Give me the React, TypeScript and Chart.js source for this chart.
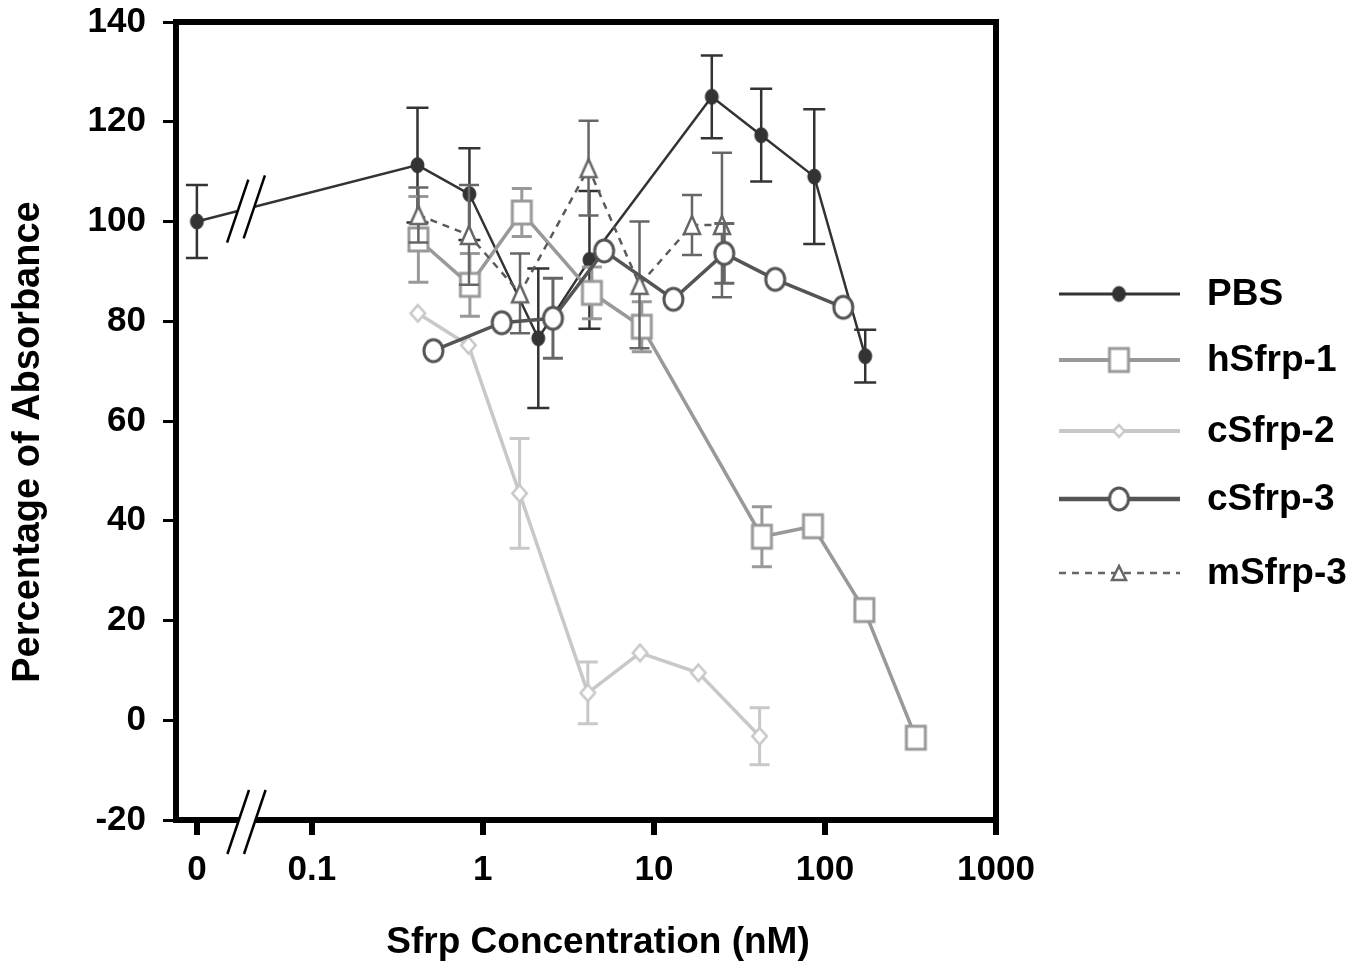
import React, { useEffect, useRef } from 'react';
import { Chart, registerables } from 'chart.js';

Chart.register(...registerables);

// ---------- data ----------
const ZERO_POS = 0.0213; // where the "0" concentration is placed on the broken log axis
const xTickValues = [ZERO_POS, 0.1, 1, 10, 100, 1000];
const xTickLabels = ['0', '0.1', '1', '10', '100', '1000'];
const yMin = -20;
const yMax = 140;
const yStep = 20;

const seriesNames = ['PBS', 'hSfrp-1', 'cSfrp-2', 'cSfrp-3', 'mSfrp-3'];

const pbsConc = [0, 0.415, 0.835, 2.11, 4.2, 21.8, 42.4, 86.6, 172];
const pbsVal = [100, 111.3, 105.5, 76.6, 92.3, 125.0, 117.3, 109.0, 73.0];
const pbsErr = [7.3, 11.5, 9.2, 14.0, 13.8, 8.3, 9.3, 13.5, 5.3];

const hSfrp1Conc = [0.42, 0.84, 1.69, 4.34, 8.5, 42.8, 85.1, 170, 340];
const hSfrp1Val = [96.4, 87.3, 101.8, 85.7, 78.9, 36.8, 38.9, 22.1, -3.5];
const hSfrp1Err = [8.6, 6.3, 4.8, 5.2, 5.0, 6.0, 0, 0, 0];

const cSfrp2Conc = [0.417, 0.824, 1.64, 4.11, 8.3, 18.2, 41.5];
const cSfrp2Val = [81.6, 75.2, 45.5, 5.5, 13.5, 9.5, -3.2];
const cSfrp2Err = [0, 0, 11.0, 6.2, 0, 0, 5.7];

const cSfrp3Conc = [0.514, 1.29, 2.57, 5.12, 13.0, 25.8, 51.2, 128];
const cSfrp3Val = [74.1, 79.7, 80.6, 94.1, 84.4, 93.6, 88.4, 82.8];
const cSfrp3Err = [0, 0, 8.0, 0, 0, 6.0, 0, 0];

const mSfrp3Conc = [0.42, 0.83, 1.65, 4.15, 8.24, 16.7, 25.0];
const mSfrp3Val = [101.3, 97.3, 85.6, 110.7, 87.3, 99.3, 99.3];
const mSfrp3Err = [5.5, 10.0, 8.0, 9.5, 12.7, 6.0, 14.5];

const FONT = "'Liberation Sans', Arial, Helvetica, sans-serif";

function makeMarker(kind: string, w: number, h: number, stroke: string, fill: string, lw: number) {
  const c = document.createElement('canvas');
  const pad = Math.ceil(lw) + 1;
  c.width = Math.ceil(w + 2 * pad);
  c.height = Math.ceil(h + 2 * pad);
  const g = c.getContext('2d') as CanvasRenderingContext2D;
  g.lineWidth = lw;
  g.strokeStyle = stroke;
  g.fillStyle = fill;
  const cx = c.width / 2;
  const cy = c.height / 2;
  g.beginPath();
  if (kind === 'ellipse') {
    g.ellipse(cx, cy, w / 2, h / 2, 0, 0, Math.PI * 2);
  } else if (kind === 'square') {
    g.rect(cx - w / 2, cy - h / 2, w, h);
  } else if (kind === 'diamond') {
    g.moveTo(cx, cy - h / 2);
    g.lineTo(cx + w / 2, cy);
    g.lineTo(cx, cy + h / 2);
    g.lineTo(cx - w / 2, cy);
    g.closePath();
  } else {
    g.moveTo(cx, cy - h / 2);
    g.lineTo(cx + w / 2, cy + h / 2);
    g.lineTo(cx - w / 2, cy + h / 2);
    g.closePath();
  }
  g.fill();
  g.stroke();
  return c;
}

function toPoints(conc: number[], vals: number[]) {
  return conc.map((c, i) => ({ x: c === 0 ? ZERO_POS : c, y: vals[i] }));
}

const errorBarPlugin = {
  id: 'errorBars',
  beforeDatasetDraw(chart: any, args: any) {
    const ds = chart.data.datasets[args.index];
    const errs: number[] = ds.errors;
    if (!errs) return;
    const ctx = chart.ctx;
    const ys = chart.scales.y;
    ctx.save();
    ctx.strokeStyle = ds.errColor;
    ctx.lineWidth = ds.errWidth;
    ctx.lineCap = 'butt';
    args.meta.data.forEach((pt: any, i: number) => {
      const e = errs[i];
      if (!e) return;
      const v = ds.data[i].y;
      const yt = ys.getPixelForValue(v + e);
      const yb = ys.getPixelForValue(v - e);
      const x = pt.x;
      const cap = ds.errCap;
      ctx.beginPath();
      ctx.moveTo(x, yt);
      ctx.lineTo(x, yb);
      ctx.moveTo(x - cap, yt);
      ctx.lineTo(x + cap, yt);
      ctx.moveTo(x - cap, yb);
      ctx.lineTo(x + cap, yb);
      ctx.stroke();
    });
    ctx.restore();
  },
};

const decorPlugin = {
  id: 'decor',
  afterDatasetsDraw(chart: any) {
    const ctx = chart.ctx as CanvasRenderingContext2D;
    const a = chart.chartArea;
    ctx.save();
    // frame
    ctx.strokeStyle = '#000';
    ctx.lineWidth = 6;
    ctx.strokeRect(a.left, a.top, a.right - a.left, a.bottom - a.top);

    const slash = (cx: number, cy: number, half: number) => {
      const dx = (21.6 / 64) * half;
      ctx.beginPath();
      ctx.moveTo(cx - dx, cy + half);
      ctx.lineTo(cx + dx, cy - half);
      ctx.stroke();
    };
    const s1 = 238.2;
    const s2 = 254.8;
    const k = 21.6 / 64;
    // axis break
    const ay = a.bottom;
    ctx.fillStyle = '#fff';
    ctx.beginPath();
    ctx.moveTo(s1 + k * 6, ay - 6);
    ctx.lineTo(s2 + k * 6, ay - 6);
    ctx.lineTo(s2 - k * 6, ay + 6);
    ctx.lineTo(s1 - k * 6, ay + 6);
    ctx.closePath();
    ctx.fill();
    ctx.strokeStyle = '#000';
    ctx.lineWidth = 2.5;
    slash(s1, ay + 2, 32);
    slash(s2, ay + 2, 32);

    // PBS line break
    const meta = chart.getDatasetMeta(0);
    const p0 = meta.data[0];
    const p1 = meta.data[1];
    if (p0 && p1) {
      const yAt = (x: number) => p0.y + ((p1.y - p0.y) * (x - p0.x)) / (p1.x - p0.x);
      const l1 = s1 - 0.5;
      const l2 = s2 - 0.5;
      const y1 = yAt(l1);
      const y2 = yAt(l2);
      ctx.fillStyle = '#fff';
      ctx.beginPath();
      ctx.moveTo(l1 + k * 6, y1 - 6);
      ctx.lineTo(l2 + k * 6, y2 - 6);
      ctx.lineTo(l2 - k * 6, y2 + 6);
      ctx.lineTo(l1 - k * 6, y1 + 6);
      ctx.closePath();
      ctx.fill();
      ctx.strokeStyle = '#000';
      ctx.lineWidth = 2.5;
      slash(l1, y1, 31.5);
      slash(l2, y2, 31.5);
    }

    // axis titles
    ctx.fillStyle = '#000';
    ctx.font = `bold 37px ${FONT}`;
    ctx.textAlign = 'center';
    ctx.textBaseline = 'middle';
    ctx.fillText('Sfrp Concentration (nM)', 598, 943);
    ctx.save();
    ctx.translate(29, 442);
    ctx.rotate(-Math.PI / 2);
    ctx.font = `bold 38px ${FONT}`;
    ctx.fillText('Percentage of Absorbance', 0, 0);
    ctx.restore();

    // legend
    const rows = [294, 360, 431, 499, 573];
    const lx1 = 1059;
    const lx2 = 1180;
    const mx = 1119;
    const tx = 1207;
    chart.data.datasets.forEach((ds: any, i: number) => {
      const y = rows[i];
      ctx.save();
      ctx.strokeStyle = ds.legendLineColor;
      ctx.lineWidth = ds.legendLineWidth;
      ctx.setLineDash(ds.borderDash || []);
      ctx.beginPath();
      ctx.moveTo(lx1, y);
      ctx.lineTo(lx2, y);
      ctx.stroke();
      ctx.restore();
      const img = ds.legendMarker as HTMLCanvasElement;
      ctx.drawImage(img, mx - img.width / 2, y - img.height / 2);
      ctx.fillStyle = '#000';
      ctx.font = `bold 37px ${FONT}`;
      ctx.textAlign = 'left';
      ctx.textBaseline = 'middle';
      ctx.fillText(ds.label, tx, y + 1);
    });
    ctx.restore();
  },
};

export default function App() {
  const ref = useRef<HTMLCanvasElement | null>(null);

  useEffect(() => {
    if (!ref.current) return;
    const mPBS = makeMarker('ellipse', 13, 15, '#333333', '#333333', 1);
    const mH1 = makeMarker('square', 19, 23, '#999999', '#ffffff', 3);
    const mC2 = makeMarker('diamond', 14.5, 16.5, '#c8c8c8', '#ffffff', 2.5);
    const mC3 = makeMarker('ellipse', 19, 22, '#555555', '#ffffff', 3);
    const mM3 = makeMarker('triangle', 16, 18, '#666666', '#ffffff', 2.5);
    const lC2 = makeMarker('diamond', 11, 12, '#c8c8c8', '#ffffff', 2.5);
    const lM3 = makeMarker('triangle', 14, 14, '#666666', '#ffffff', 2.5);

    const common = { tension: 0, pointRadius: 8, pointHoverRadius: 8, fill: false };

    const chart = new Chart(ref.current, {
      type: 'line',
      data: {
        datasets: [
          {
            ...common,
            label: seriesNames[0],
            data: toPoints(pbsConc, pbsVal),
            borderColor: '#333333',
            borderWidth: 2.5,
            pointStyle: mPBS,
            order: 5,
            errors: pbsErr,
            errColor: '#333333',
            errWidth: 2.5,
            errCap: 11,
            legendMarker: mPBS,
            legendLineColor: '#333333',
            legendLineWidth: 3,
          },
          {
            ...common,
            label: seriesNames[1],
            data: toPoints(hSfrp1Conc, hSfrp1Val),
            borderColor: '#999999',
            borderWidth: 3.5,
            pointStyle: mH1,
            order: 4,
            errors: hSfrp1Err,
            errColor: '#999999',
            errWidth: 3,
            errCap: 10,
            legendMarker: mH1,
            legendLineColor: '#999999',
            legendLineWidth: 4,
          },
          {
            ...common,
            label: seriesNames[2],
            data: toPoints(cSfrp2Conc, cSfrp2Val),
            borderColor: '#c8c8c8',
            borderWidth: 3.5,
            pointStyle: mC2,
            order: 3,
            errors: cSfrp2Err,
            errColor: '#c8c8c8',
            errWidth: 3,
            errCap: 10,
            legendMarker: lC2,
            legendLineColor: '#c8c8c8',
            legendLineWidth: 4,
          },
          {
            ...common,
            label: seriesNames[3],
            data: toPoints(cSfrp3Conc, cSfrp3Val),
            borderColor: '#555555',
            borderWidth: 3.5,
            pointStyle: mC3,
            order: 1,
            errors: cSfrp3Err,
            errColor: '#666666',
            errWidth: 3,
            errCap: 10,
            legendMarker: mC3,
            legendLineColor: '#555555',
            legendLineWidth: 4.5,
          },
          {
            ...common,
            label: seriesNames[4],
            data: toPoints(mSfrp3Conc, mSfrp3Val),
            borderColor: '#5a5a5a',
            borderWidth: 2.5,
            borderDash: [7, 6],
            pointStyle: mM3,
            order: 2,
            errors: mSfrp3Err,
            errColor: '#666666',
            errWidth: 2.5,
            errCap: 10,
            legendMarker: lM3,
            legendLineColor: '#666666',
            legendLineWidth: 2.5,
          },
        ] as any,
      },
      options: {
        responsive: false,
        animation: false,
        events: [],
        layout: { padding: { left: 0, top: 22, right: 372, bottom: 0 } },
        plugins: { legend: { display: false }, tooltip: { enabled: false } },
        scales: {
          x: {
            type: 'logarithmic',
            min: 0.01608,
            max: 1000,
            afterBuildTicks: (scale: any) => {
              scale.ticks = xTickValues.map((v) => ({ value: v }));
            },
            afterFit: (scale: any) => {
              scale.height = 147;
              scale.paddingLeft = 0;
              scale.paddingRight = 0;
              scale.paddingTop = 0;
              scale.paddingBottom = 0;
            },
            ticks: {
              callback: (_v: any, i: number) => xTickLabels[i],
              font: { size: 35, weight: 'bold', family: FONT },
              color: '#000',
              padding: 14,
              maxRotation: 0,
              autoSkip: false,
            },
            grid: { drawOnChartArea: false, drawTicks: true, tickLength: 15, lineWidth: 6, color: '#000' },
            border: { display: false },
          },
          y: {
            type: 'linear',
            min: yMin,
            max: yMax,
            afterFit: (scale: any) => {
              scale.width = 176;
              scale.paddingLeft = 0;
              scale.paddingRight = 0;
              scale.paddingTop = 0;
              scale.paddingBottom = 0;
            },
            ticks: {
              stepSize: yStep,
              font: { size: 35, weight: 'bold', family: FONT },
              color: '#000',
              padding: 17,
            },
            grid: { drawOnChartArea: false, drawTicks: true, tickLength: 13, lineWidth: 3, color: '#000' },
            border: { display: false },
          },
        },
      } as any,
      plugins: [errorBarPlugin, decorPlugin] as any,
    });
    return () => chart.destroy();
  }, []);

  return (
    <div style={{ position: 'absolute', left: 0, top: 0, width: 1368, height: 967, background: '#fff' }}>
      <canvas ref={ref} width={1368} height={967} style={{ display: 'block' }} />
    </div>
  );
}
